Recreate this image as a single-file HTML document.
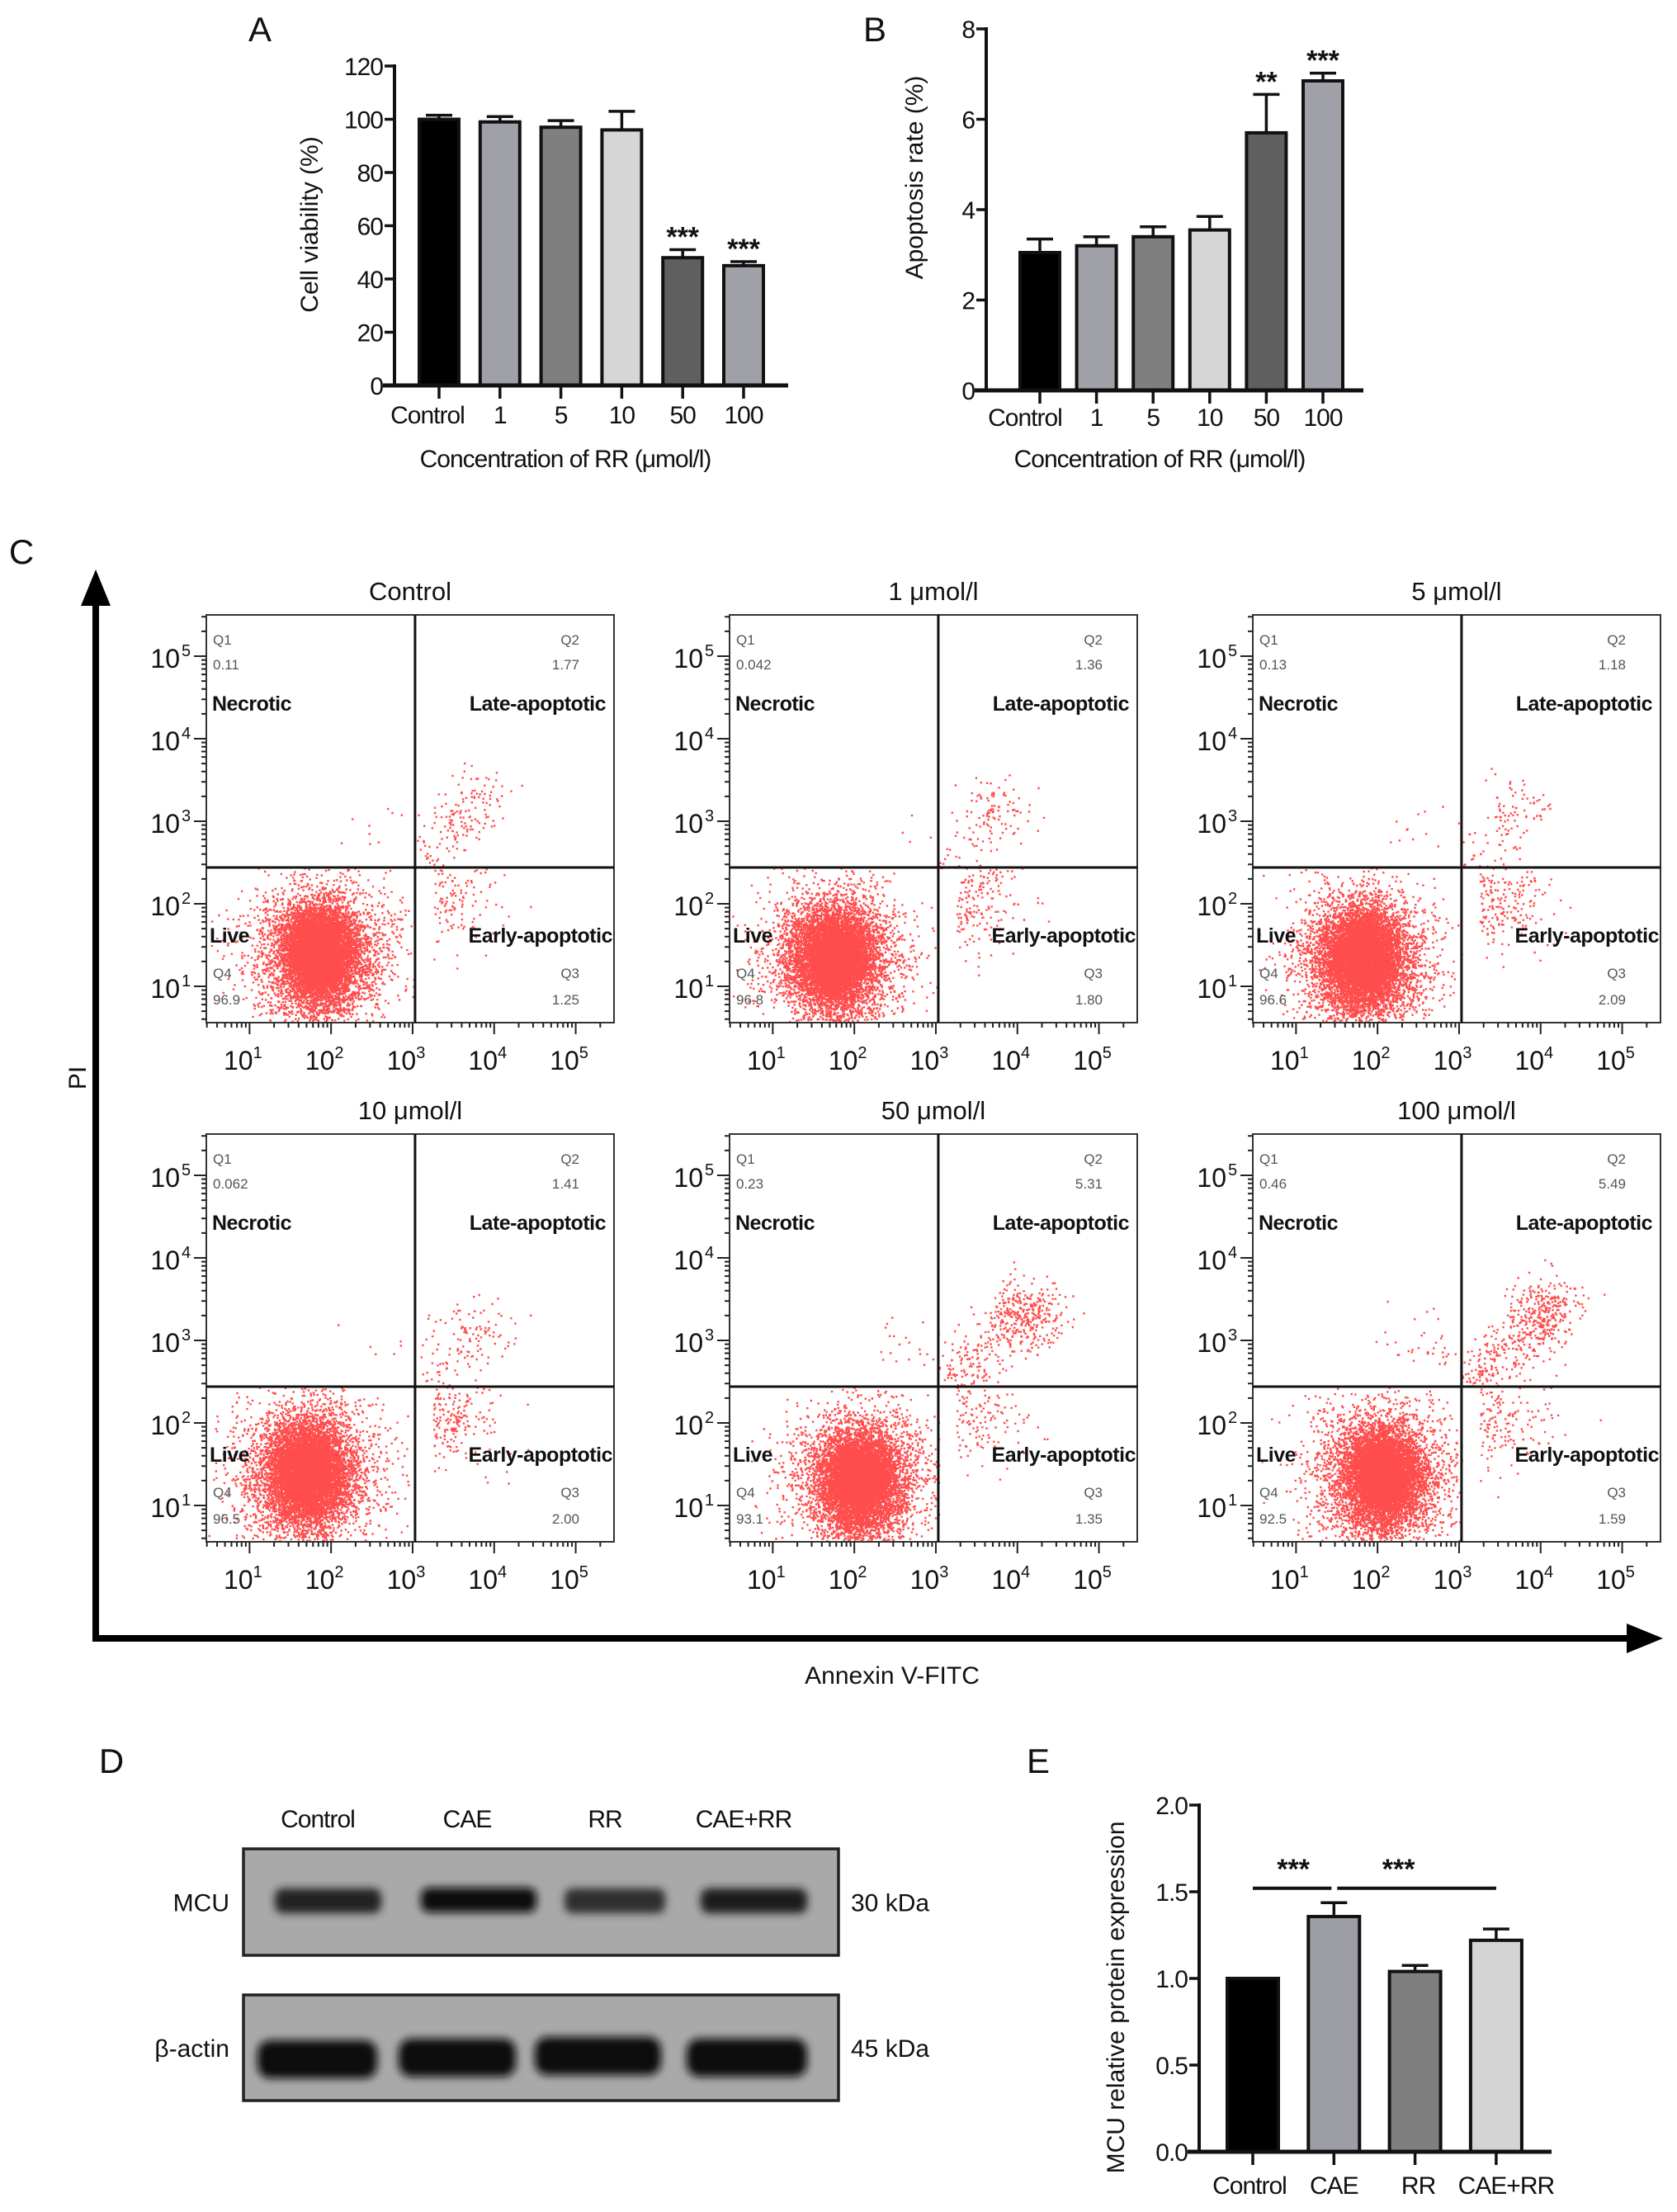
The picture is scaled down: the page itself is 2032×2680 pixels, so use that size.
<!DOCTYPE html>
<html><head><meta charset="utf-8">
<style>
html,body{margin:0;padding:0;background:#fff;}
svg{display:block;font-family:"Liberation Sans",Arial,sans-serif;}
</style></head>
<body>
<svg id="fig" xmlns="http://www.w3.org/2000/svg" width="2032" height="2680" viewBox="0 0 2032 2680">
<rect x="0" y="0" width="2032" height="2680" fill="#fff"/>
</svg>
<script>
// ---------- Panel A data ----------
const aCats = ['Control','1','5','10','50','100'];
const aVals = [100, 99, 97, 96, 48, 45];
const aErr = [1.5, 2, 2.5, 7, 3, 1.5];
const aStars = ['', '', '', '', '***', '***'];
const aTicks = [0, 20, 40, 60, 80, 100, 120];
// ---------- Panel B data ----------
const bCats = ['Control','1','5','10','50','100'];
const bVals = [3.05, 3.2, 3.4, 3.55, 5.7, 6.85];
const bErr = [0.3, 0.2, 0.22, 0.3, 0.85, 0.17];
const bStars = ['', '', '', '', '**', '***'];
const bTicks = [0, 2, 4, 6, 8];
// ---------- Panel C data ----------
const flowTitles = ['Control','1 μmol/l','5 μmol/l','10 μmol/l','50 μmol/l','100 μmol/l'];
const flowQ1 = ['0.11','0.042','0.13','0.062','0.23','0.46'];
const flowQ2 = ['1.77','1.36','1.18','1.41','5.31','5.49'];
const flowQ3 = ['1.25','1.80','2.09','2.00','1.35','1.59'];
const flowQ4 = ['96.9','96.8','96.6','96.5','93.1','92.5'];
const liveCx = [1.85, 1.75, 1.8, 1.7, 2.05, 2.05];
const liveCy = [1.45, 1.4, 1.4, 1.45, 1.35, 1.4];
const lateCx = [3.75, 3.75, 3.75, 3.8, 4.1, 4.05];
const lateCy = [3.2, 3.2, 3.15, 3.1, 3.35, 3.35];
// ---------- Panel D data ----------
const wbLanes = ['Control','CAE','RR','CAE+RR'];
const mcuIntensity = [0.75, 1.0, 0.6, 0.8];
const actinIntensity = [1.0, 1.0, 1.0, 1.0];
// ---------- Panel E data ----------
const eCats = ['Control','CAE','RR','CAE+RR'];
const eVals = [1.0, 1.357, 1.04, 1.22];
const eErr = [0, 0.08, 0.035, 0.065];
const eTicks = [0.0, 0.5, 1.0, 1.5, 2.0];

const NS = 'http://www.w3.org/2000/svg';
const svg = document.getElementById('fig');
function mk(tag, attrs, parent){
  const e = document.createElementNS(NS, tag);
  for (const k in attrs) e.setAttribute(k, attrs[k]);
  (parent || svg).appendChild(e);
  return e;
}
function txt(str, x, y, size, anchor, parent, extra){
  const t = mk('text', Object.assign({x:x, y:y, 'font-size':size, 'text-anchor':anchor||'start', fill:'#111'}, extra||{}), parent);
  t.textContent = str;
  return t;
}

// ---------- bar chart builder ----------
function barChart(cfg){
  const g = mk('g', {});
  
  
  const y = v => cfg.y0 - (v - cfg.vmin) / (cfg.vmax - cfg.vmin) * (cfg.y0 - cfg.y1);
  const x = i => cfg.xStart + i * cfg.step;
  cfg.vals.forEach((v, i) => {
    const cx = x(i);
    const top = y(v);
    const r = mk('rect', {x: cx - cfg.bw/2, y: top, width: cfg.bw, height: cfg.y0 - top, fill: cfg.colors[i], stroke: '#111', 'stroke-width': 4}, g);
    
    
    if (cfg.err[i] > 0) {
      const ey = y(v + cfg.err[i]);
      const eb = mk('path', {d: `M${cx} ${top} V${ey} M${cx-16} ${ey} H${cx+16}`, stroke: '#111', 'stroke-width': 3.5, fill: 'none'}, g);
      
      
    }
    if (cfg.stars && cfg.stars[i]) {
      const st = txt(cfg.stars[i], cx, y(v + cfg.err[i]) - 4, 34, 'middle', g, {'font-weight':'bold'});
      
      
    }
    mk('line', {x1: cx, y1: cfg.y0, x2: cx, y2: cfg.y0 + 16, stroke: '#111', 'stroke-width': 3.5}, g);
    const lt = txt(cfg.cats[i], cx + (cfg.labelShift ? cfg.labelShift[i] : 0), cfg.labelY, 30, 'middle', g, {'letter-spacing':'-1'});
    
    
  });
  const ya = mk('line', {x1: cfg.ax, y1: cfg.y1 - 2, x2: cfg.ax, y2: cfg.y0, stroke: '#111', 'stroke-width': 4}, g);
  
  
  const xa = mk('line', {x1: cfg.ax - 14, y1: cfg.y0, x2: cfg.xEnd, y2: cfg.y0, stroke: '#111', 'stroke-width': 5}, g);
  
  
  cfg.ticks.forEach(t => {
    const ty = y(t);
    mk('line', {x1: cfg.ax - 12, y1: ty, x2: cfg.ax, y2: ty, stroke: '#111', 'stroke-width': 3.5}, g);
    const tl = txt(cfg.tickFmt(t), cfg.ax - 14, ty + 11, 30, 'end', g, {'letter-spacing':'-1'});
    
    
  });
  const yt = txt(cfg.yTitle, 0, 0, 30, 'middle', g, {transform: `translate(${cfg.yTitleX},${cfg.yTitleY}) rotate(-90)`});
  
  
  if (cfg.xTitle) {
    const xt = txt(cfg.xTitle, cfg.xTitleX, cfg.xTitleY, 30, 'middle', g, {'letter-spacing':'-1'});
    
    
  }
  return {g, x, y};
}

[['A',315,50],['B',1060,50],['C',26,683],['D',135,2148],['E',1258,2148]].forEach(p=>{
  const t = txt(p[0], p[1], p[2], 42, 'middle');
  
  
});

const barColors6 = ['#000000', '#a0a0a8', '#7f7f7f', '#d6d6d6', '#5f5f5f', '#a0a0a8'];
barChart({name:'panel-a-cell-viability', cats:aCats, vals:aVals, err:aErr, stars:aStars, ticks:aTicks,
  vmin:0, vmax:120, y0:467, y1:80, ax:478, xStart:532, step:73.8, bw:48, xEnd:955, colors:barColors6,
  labelY:513, labelShift:[-14,0,0,0,0,0], tickFmt:t=>String(t), yTitle:'Cell viability (%)', yTitleX:385, yTitleY:272,
  xTitle:'Concentration of RR (μmol/l)', xTitleX:685, xTitleY:566});
barChart({name:'panel-b-apoptosis-rate', cats:bCats, vals:bVals, err:bErr, stars:bStars, ticks:bTicks,
  vmin:0, vmax:8, y0:473, y1:35, ax:1195, xStart:1260, step:68.6, bw:48, xEnd:1652, colors:barColors6,
  labelY:516, labelShift:[-18,0,0,0,0,0], tickFmt:t=>String(t), yTitle:'Apoptosis rate (%)', yTitleX:1118, yTitleY:215,
  xTitle:'Concentration of RR (μmol/l)', xTitleX:1405, xTitleY:566});

// ---------- Panel C ----------
const arrows = mk('g', {});


mk('line', {x1:116, y1:1989, x2:116, y2:730, stroke:'#000', 'stroke-width':8}, arrows);
mk('polygon', {points:'116,690 98,734 134,734', fill:'#000'}, arrows);
mk('line', {x1:112, y1:1985, x2:1975, y2:1985, stroke:'#000', 'stroke-width':8}, arrows);
mk('polygon', {points:'2015,1985 1971,1967 1971,2003', fill:'#000'}, arrows);
const piT = txt('PI', 0, 0, 30, 'middle', null, {transform:'translate(104,1306) rotate(-90)'});


const anT = txt('Annexin V-FITC', 1081, 2040, 30, 'middle');



function mulberry32(a){return function(){a|=0;a=a+0x6D2B79F5|0;let t=Math.imul(a^a>>>15,1|a);t=t+Math.imul(t^t>>>7,61|t)^t;return((t^t>>>14)>>>0)/4294967296;}}

const S = 494, LX0 = 0.47, LY0 = 0.56, QX = 3.03, QY = 2.44;
const flowLeft = [250, 884, 1518];
const flowTop = [745, 1374];
function flowPlot(k){
  const ox = flowLeft[k % 3], oy = flowTop[Math.floor(k / 3)];
  const g = mk('g', {});
  
  
  const xs = lx => ox + (lx - LX0) / 5 * S;
  const ys = ly => oy + S - (ly - LY0) / 4.94 * S;
  const rnd = mulberry32(1234 + k * 77);
  const gauss = () => { let u = 0, v = 0; while (!u) u = rnd(); v = rnd(); return Math.sqrt(-2*Math.log(u))*Math.cos(2*Math.PI*v); };
  const N = 9000;
  const counts = [parseFloat(flowQ1[k]), parseFloat(flowQ2[k]), parseFloat(flowQ3[k]), parseFloat(flowQ4[k])].map(p => Math.round(p / 100 * N));
  let d = '';
  const add = (lx, ly) => { const px = xs(lx), py = ys(ly); d += `M${px.toFixed(1)} ${py.toFixed(1)}h2.4v2.4h-2.4z`; };
  const inBox = (lx, ly) => lx > LX0 + 0.02 && lx < LX0 + 4.98 && ly > LY0 + 0.02 && ly < LY0 + 4.92;
  for (let n = 0; n < counts[3]; n++) {
    let lx, ly, tries = 0;
    const wide = rnd() < 0.35;
    do {
      lx = liveCx[k] + gauss() * (wide ? 0.42 : 0.22);
      ly = liveCy[k] + gauss() * (wide ? 0.42 : 0.26) - (rnd() < 0.2 ? rnd()*0.5 : 0);
      tries++;
    } while ((lx >= QX || ly >= QY || !inBox(lx, ly)) && tries < 20);
    if (tries < 20) add(lx, ly);
  }
  for (let n = 0; n < counts[1]; n++) {
    let lx, ly, tries = 0;
    do {
      if (rnd() < 0.45) { lx = lateCx[k] + gauss()*0.22; ly = lateCy[k] + gauss()*0.2; }
      else { const t = rnd(); lx = 3.0 + t*(lateCx[k]-3.0) + gauss()*0.2; ly = 2.3 + t*(lateCy[k]-2.3) + gauss()*0.2; }
      tries++;
    } while ((lx < QX || ly < QY || !inBox(lx, ly)) && tries < 30);
    if (tries < 30) add(lx, ly);
  }
  for (let n = 0; n < counts[2]; n++) {
    let lx, ly, tries = 0;
    do { lx = 3.25 + Math.abs(gauss())*0.4; ly = 2.05 + gauss()*0.3; tries++; }
    while ((lx < QX || ly >= QY || !inBox(lx, ly)) && tries < 30);
    if (tries < 30) add(lx, ly);
  }
  for (let n = 0; n < Math.max(counts[0], 3); n++) {
    let lx = 2.6 + gauss()*0.3, ly = 2.7 + Math.abs(gauss())*0.3;
    if (lx < QX && ly > QY && inBox(lx, ly)) add(lx, ly);
  }
  const pts = mk('path', {d: d, fill: '#ff0000', 'fill-opacity': 0.7}, g);
  
  
  const box = mk('rect', {x: ox, y: oy, width: S, height: S, fill: 'none', stroke: '#333', 'stroke-width': 2}, g);
  
  
  const qv = mk('line', {x1: xs(QX), y1: oy, x2: xs(QX), y2: oy + S, stroke: '#111', 'stroke-width': 3}, g);
  
  
  const qh = mk('line', {x1: ox, y1: ys(QY), x2: ox + S, y2: ys(QY), stroke: '#111', 'stroke-width': 3}, g);
  
  
  let td = '';
  for (let dec = 0; dec <= 5; dec++) {
    for (let m = 1; m <= 9; m++) {
      const l = dec + Math.log10(m);
      const major = m === 1;
      if (l > LX0 && l < LX0 + 5) { const px = xs(l); td += `M${px} ${oy+S} v${major?14:6}`; }
      if (l > LY0 && l < LY0 + 4.94) { const py = ys(l); td += `M${ox} ${py} h${major?-15:-6}`; }
    }
  }
  mk('path', {d: td, stroke: '#222', 'stroke-width': 2, fill: 'none'}, g);
  for (let e = 1; e <= 5; e++) {
    const xl = txt('10', xs(e) - 8, oy + S + 57, 32, 'middle', g);
    const sup = mk('tspan', {dy: -14, 'font-size': 20}, xl); sup.textContent = String(e);
    
    
    const yl = txt('10', ox - 32, ys(e) + 14, 32, 'end', g);
    const sup2 = mk('tspan', {x: ox - 30, dy: -14, 'font-size': 20, 'text-anchor': 'start'}, yl); sup2.textContent = String(e);
    
    
  }
  const tt = txt(flowTitles[k], ox + S/2, oy - 18, 31, 'middle', g);
  
  
  const gray = {fill: '#555'};
  txt('Q1', ox + 8, oy + 36, 17, 'start', g, gray);
  txt(flowQ1[k], ox + 8, oy + 66, 17, 'start', g, gray);
  txt('Q2', ox + S - 42, oy + 36, 17, 'end', g, gray);
  txt(flowQ2[k], ox + S - 42, oy + 66, 17, 'end', g, gray);
  txt('Q4', ox + 8, oy + 440, 17, 'start', g, gray);
  txt(flowQ4[k], ox + 8, oy + 472, 17, 'start', g, gray);
  txt('Q3', ox + S - 42, oy + 440, 17, 'end', g, gray);
  txt(flowQ3[k], ox + S - 42, oy + 472, 17, 'end', g, gray);
  const lb = {'font-weight': 'bold', 'letter-spacing': '-0.5'};
  txt('Necrotic', ox + 7, oy + 116, 25, 'start', g, lb);
  txt('Late-apoptotic', ox + S - 10, oy + 116, 25, 'end', g, lb);
  txt('Live', ox + 4, oy + 397, 25, 'start', g, lb);
  txt('Early-apoptotic', ox + S - 2, oy + 397, 25, 'end', g, lb);
}
for (let k = 0; k < 6; k++) flowPlot(k);

// ---------- Panel D ----------
const defs = mk('defs', {});
const blur = mk('filter', {id: 'blur', x: '-20%', y: '-50%', width: '140%', height: '200%'}, defs);
mk('feGaussianBlur', {stdDeviation: 5}, blur);
const wb = mk('g', {});


const laneX = [397, 578, 745, 913];
wbLanes.forEach((l, i) => {
  const t = txt(l, laneX[i] - 12, 2214, 30, 'middle', wb, {'letter-spacing':'-1'});
  
  
});
function blot(y, h, name, bands, intens, bandH, label, kda){
  const g = mk('g', {}, wb);
  
  
  mk('rect', {x: 295, y: y, width: 721, height: h, fill: '#a9a9a9', stroke: '#222', 'stroke-width': 3.5}, g);
  bands.forEach((b, i) => {
    const v = Math.round(10 + (1 - intens[i]) * 90);
    const r = mk('rect', {x: b[0], y: b[1] - bandH/2, width: b[2] - b[0], height: bandH, rx: bandH/3, fill: `rgb(${v},${v},${v})`, filter: 'url(#blur)'}, g);
    
    
  });
  txt(label, 278, y + h/2 + 11, 30, 'end', g);
  txt(kda, 1031, y + h/2 + 11, 30, 'start', g);
}
blot(2240, 129, 'mcu-blot', [[333,2303,462],[510,2302,650],[684,2303,806],[849,2303,978]], mcuIntensity, 30, 'MCU', '30 kDa');
blot(2417, 128, 'actin-blot', [[312,2495,457],[483,2493,625],[648,2491,801],[832,2493,978]], actinIntensity, 46, 'β-actin', '45 kDa');

// ---------- Panel E ----------
const E = barChart({name:'panel-e-mcu-expression', cats:eCats, vals:eVals, err:eErr, stars:null, ticks:eTicks,
  vmin:0, vmax:2, y0:2607, y1:2187, ax:1453, xStart:1518, step:98.3, bw:62, xEnd:1880,
  colors:['#000000','#9d9da5','#7f7f7f','#d4d4d4'],
  labelY:2658, labelShift:[-4,0,4,12], tickFmt:t=>t.toFixed(1), yTitle:'MCU relative protein expression', yTitleX:1362, yTitleY:2420});
const sigLevel = 1.52;
const sg = mk('g', {});


const sy = E.y(sigLevel);
mk('line', {x1: E.x(0), y1: sy, x2: E.x(1) - 3, y2: sy, stroke: '#111', 'stroke-width': 4}, sg);
mk('line', {x1: E.x(1) + 4, y1: sy, x2: E.x(3), y2: sy, stroke: '#111', 'stroke-width': 4}, sg);
txt('***', (E.x(0) + E.x(1)) / 2, sy - 12, 34, 'middle', sg, {'font-weight':'bold'});
txt('***', (E.x(1) + E.x(3)) / 2 - 20, sy - 12, 34, 'middle', sg, {'font-weight':'bold'});
</script>
</body></html>
